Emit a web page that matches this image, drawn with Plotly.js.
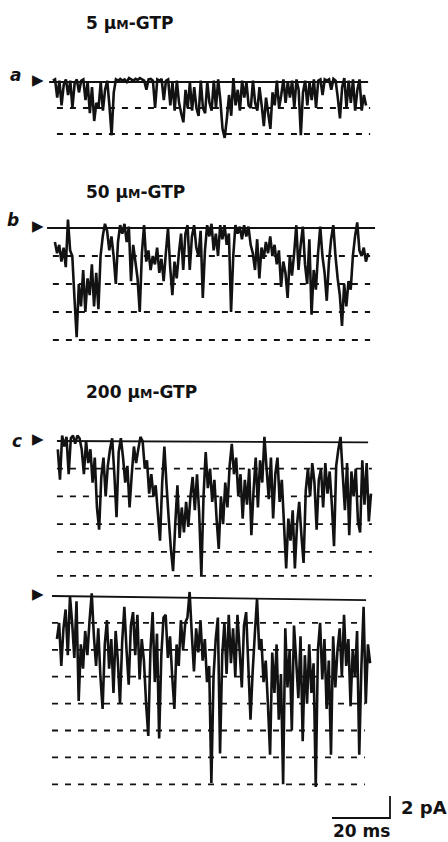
<!DOCTYPE html>
<html><head><meta charset="utf-8">
<script src="https://cdn.plot.ly/plotly-3.0.1.min.js"></script>
<style>html,body{margin:0;padding:0;background:#fff}#chart{width:448px;height:842px}</style>
</head><body><div id="chart"></div>
<script>
// ---------------- DATA ----------------
// GTP concentrations of the three recordings (µM)
const gtpConcentrations = ['5', '50', '200'];
const traceLabels = ['a', 'b', 'c', ''];

// sampling of the digitised current records (ms)
const sampleStepMs = 0.75;
const traceStartMs = [0.3, 1.0, 2.0, 1.7];

// current, in units of the unitary (dashed) level; 0 = closed (baseline), negative = inward
const currentA = [
  0.05, 0.1, -0.6, 0.05, -0.9, -0.1, 0.1, -0.5, 0.05, -1.0,
  -0.05, 0.1, -0.4, 0.05, 0.1, -0.7, 0.0, -1.2, -0.2, -1.5,
  -0.8, -1.0, 0.0, -1.1, -0.3, 0.05, -0.9, -2.05, -0.4, 0.1,
  0.05, 0.12, 0.05, 0.1, 0.0, 0.15, 0.1, 0.05, 0.12, 0.08,
  0.15, 0.1, 0.05, -0.3, 0.1, 0.12, 0.05, -1.0, 0.1, 0.05,
  0.12, -0.7, 0.05, 0.1, -0.9, 0.0, -1.1, 0.05, -0.8, -1.2,
  -1.55, -0.3, -1.0, 0.0, -1.1, -0.2, -1.0, -1.3, 0.05, -1.0,
  -1.2, 0.0, -0.8, -1.1, 0.05, -1.0, 0.1, -0.7, -1.8, -2.15,
  -1.4, -0.5, -1.3, 0.15, -0.9, -0.3, -1.1, 0.05, -0.6, 0.0,
  -0.9, -1.0, 0.05, -0.8, -1.1, -0.2, -0.9, -1.7, -0.6, -1.2,
  -1.8, -0.4, -0.9, 0.05, -1.0, -0.5, 0.1, -0.8, 0.0, -0.6,
  0.05, -1.0, 0.1, -0.3, -2.05, -0.4, 0.05, -0.9, 0.0, -0.7,
  0.1, -1.0, 0.05, 0.1, -0.5, 0.1, 0.05, 0.1, -0.3, 0.12,
  0.05, -0.6, -1.4, -0.2, 0.15, -1.0, 0.05, -0.8, 0.1, -1.1,
  -0.3, 0.1, -1.1, -0.5, -0.9
];
const currentB = [
  -0.5, -0.9, -0.6, -1.2, -0.7, -1.4, 0.3, -0.8, -1.0, -2.5,
  -3.9, -2.0, -2.8, -1.5, -3.0, -1.8, -2.4, -1.3, -2.8, -1.6,
  -2.9, -1.0, -0.3, 0.15, -0.1, -0.8, -0.3, -1.0, -2.0, -0.5,
  0.1, -0.2, 0.15, -0.5, 0.05, -1.9, -0.6, -1.2, -1.8, -3.0,
  -0.9, 0.1, -1.2, -0.8, -1.5, -1.0, -1.3, -0.7, -1.6, -1.1,
  -1.9, -0.9, 0.0, -1.4, -2.4, -1.2, -1.8, -0.9, -0.2, -1.5,
  -0.2, 0.1, -1.5, -0.3, 0.1, -0.7, -1.0, -0.1, -2.5, -0.8,
  0.1, -0.3, 0.15, -0.8, -0.2, -1.0, 0.1, -0.4, 0.1, -0.6,
  -0.2, -3.0, -1.0, 0.1, -0.2, 0.05, -0.4, 0.1, -0.3, 0.05,
  -0.6, -0.9, -1.5, -0.4, -1.8, -0.7, -1.1, -0.5, -0.9, -0.3,
  -1.0, -0.6, -1.3, -0.8, -2.1, -1.2, -1.6, -2.5, -1.0, -1.7,
  -0.9, 0.1, -1.5, -0.6, 0.05, -1.3, -2.0, -0.4, -3.1, -1.5,
  -2.2, -0.9, 0.05, -1.0, -1.6, -2.6, -1.2, -0.4, 0.1, -1.0,
  -1.8, -2.4, -3.5, -2.0, -2.8, -1.9, -2.2, -1.0, -0.3, 0.2,
  -0.8, -1.0, -0.7, -1.2, -0.9
];
const currentC = [
  -0.3, -1.4, 0.2, -0.2, 0.15, -1.2, 0.1, 0.2, -0.1, 0.2,
  0.1, -0.3, -1.2, 0.0, -0.8, -0.3, -1.5, -0.6, -2.4, -3.2,
  -1.3, -0.6, -2.0, -0.9, -0.3, 0.1, -1.2, -2.75, -0.4, 0.1,
  -0.6, -1.5, -0.9, -2.4, -1.2, -0.2, -0.8, -0.3, 0.15, 0.0,
  -1.0, -0.7, -1.9, -1.2, -2.0, -1.6, -2.6, -3.6, -1.5, -0.2,
  -1.6, -2.8, -3.9, -4.7, -3.0, -1.6, -3.5, -2.4, -3.3, -2.2,
  -3.1, -2.0, -1.3, -2.5, -1.2, -2.6, -4.85, -2.0, -0.4, -1.7,
  -1.0, -2.2, -1.4, -2.8, -3.9, -2.0, -3.0, -1.5, -2.4, -0.9,
  -0.1, -1.2, -0.6, -2.0, -1.2, -2.8, -1.4, -2.3, -1.0, -3.4,
  -1.8, -0.6, -2.4, -0.7, -1.5, 0.15, -1.0, -2.1, -0.6, -2.8,
  -1.2, -0.6, -2.2, -1.4, -3.0, -4.6, -2.8, -3.6, -2.5, -4.6,
  -3.0, -2.2, -3.4, -4.4, -1.8, -1.0, -2.0, -0.8, -1.5, -3.2,
  -1.4, -1.0, -2.4, -0.8, -1.9, -1.1, -2.3, -3.8, -0.9, -0.3,
  0.15, -1.2, -2.5, -0.8, -3.4, -1.1, -2.0, -1.0, -2.9, -3.3,
  -0.7, -2.3, -0.8, -2.9, -1.9
];
const currentD = [
  -1.6, -1.0, -2.6, -1.2, -0.5, -2.2, 0.0, -1.0, -2.3, -0.2,
  -3.9, -1.8, -2.7, -1.3, -2.2, -0.9, 0.1, -1.5, -2.6, -1.2,
  -3.0, -4.2, -1.8, -0.9, -2.7, -1.6, -3.6, -1.3, -2.4, -4.0,
  -1.7, -0.4, -2.0, -3.3, -1.1, -0.6, -2.2, -0.7, -3.1, -1.6,
  -2.4, -4.0, -5.2, -2.0, -0.6, -3.2, -1.4, -5.3, -2.2, -0.8,
  -0.7, -2.3, -1.5, -3.0, -4.2, -1.8, -2.6, -0.9, -2.0, -1.0,
  -0.8, 0.15, -1.4, -2.8, -1.2, -2.1, -0.9, -2.4, -1.6, -3.2,
  -2.6, -6.95, -3.0, -1.6, -0.8, -5.85, -2.2, -1.0, -2.9, -0.7,
  -2.5, -1.2, -3.0, -0.7, -2.0, -3.4, -1.1, -0.6, -2.6, -4.6,
  -2.8, -1.4, -0.1, -2.0, -1.6, -3.2, -2.4, -4.0, -5.9, -2.1,
  -3.6, -1.8, -4.6, -2.9, -7.0, -1.2, -3.4, -2.0, -5.0, -1.1,
  -2.4, -3.8, -1.5, -5.4, -2.2, -4.0, -1.8, -3.6, -2.5, -7.1,
  -2.0, -1.0, -3.1, -1.6, -4.2, -2.4, -5.9, -1.5, -3.4, -2.0,
  -1.2, -3.0, -0.7, -2.6, -1.6, -4.1, -2.0, -3.0, -1.3, -5.9,
  -2.6, -0.4, -4.0, -1.8, -2.5
];
const currents = [currentA, currentB, currentC, currentD];

// closed-level (solid) line: time extent (ms) and level at each end
const baselineMsA = [-1.0, 109.0], baselineMsB = [-1.7, 111.4], baselineMsC = [1.7, 109.0], baselineMsD = [0.0, 108.3];
const baselineLevelA = [0, 0], baselineLevelB = [0, 0], baselineLevelC = [0, -0.05], baselineLevelD = [0, -0.15];
// open-level (dashed) lines
const dashedMsA = [1.7, 109.7], dashedMsB = [0.3, 109.7], dashedMsC = [1.7, 110.3], dashedMsD = [0.0, 107.9];
const dashedLevelsA = [-1, -2];
const dashedLevelsB = [-1, -2, -3, -4];
const dashedLevelsC = [-1, -2, -3, -4, -4.87];
const dashedLevelsD = [-1, -2, -3, -4, -5, -6, -7];

// calibration
const scaleBarMs = 20;
const scaleBarPA = 2;
const pAPerLevel = 2.45;

// ---------------- LAYOUT HELPERS ----------------
const W = 448, H = 842;
const PX_PER_MS = 2.9, X_ORIGIN_PX = 52;
const basePx = [82, 228, 441, 596];
const pxPerLevel = [26, 28, 27.7, 26.9];
const yRange = k => [(basePx[k] - H) / pxPerLevel[k], basePx[k] / pxPerLevel[k]];
const px2paperX = p => p / W;
const px2paperY = p => 1 - p / H;
const yName = k => (k === 0 ? 'y' : 'y' + (k + 1));

const baselinesMs = [baselineMsA, baselineMsB, baselineMsC, baselineMsD];
const baselinesLv = [baselineLevelA, baselineLevelB, baselineLevelC, baselineLevelD];
const dashedMs = [dashedMsA, dashedMsB, dashedMsC, dashedMsD];
const dashedLv = [dashedLevelsA, dashedLevelsB, dashedLevelsC, dashedLevelsD];

const INK = '#121212';
const FONT = 'DejaVu Sans';
const data = [];
const annotations = [];

for (let k = 0; k < 4; k++) {
  dashedLv[k].forEach(lv => data.push({
    type: 'scatter', mode: 'lines', x: dashedMs[k], y: [lv, lv], xaxis: 'x', yaxis: yName(k),
    line: { color: INK, width: 1.8, dash: '6px,7px' }, hoverinfo: 'skip'
  }));
  data.push({
    type: 'scatter', mode: 'lines', x: baselinesMs[k], y: baselinesLv[k], xaxis: 'x', yaxis: yName(k),
    line: { color: INK, width: 1.8 }, hoverinfo: 'skip'
  });
  data.push({
    type: 'scatter', mode: 'lines', x0: traceStartMs[k], dx: sampleStepMs, y: currents[k],
    xaxis: 'x', yaxis: yName(k), line: { color: INK, width: 2.6, simplify: false }, hoverinfo: 'skip'
  });
  // arrow marking the closed level
  annotations.push({
    xref: 'x', yref: yName(k), x: (38 - X_ORIGIN_PX) / PX_PER_MS, y: 0.08,
    text: '\u25B6', showarrow: false, xanchor: 'center', yanchor: 'middle',
    font: { family: FONT, size: 15, color: INK }
  });
}

// record labels
const labelPos = [[8, 75], [5, 220], [10, 441]];
traceLabels.forEach((t, k) => {
  if (!t) return;
  annotations.push({
    xref: 'paper', yref: 'paper', x: px2paperX(labelPos[k][0]), y: px2paperY(labelPos[k][1]),
    text: '<b><i>' + t + '</i></b>', showarrow: false, xanchor: 'left', yanchor: 'middle',
    font: { family: FONT, size: 17, color: INK }
  });
});

// condition titles
const titleY = [23, 192, 392];
gtpConcentrations.forEach((c, k) => {
  annotations.push({
    xref: 'paper', yref: 'paper', x: px2paperX(84), y: px2paperY(titleY[k]),
    text: '<b>' + c + ' \u03BC<span style="font-size:12.5px">M</span>-GTP</b>',
    showarrow: false, xanchor: 'left', yanchor: 'middle',
    font: { family: FONT, size: 17, color: INK }
  });
});

// scale bar (drawn on the last record's axes)
const barEndMs = (390 - X_ORIGIN_PX) / PX_PER_MS;
const barBottomLv = -(818 - basePx[3]) / pxPerLevel[3];
const barHeightLv = scaleBarPA / pAPerLevel;
data.push({
  type: 'scatter', mode: 'lines', xaxis: 'x', yaxis: 'y4',
  x: [barEndMs - scaleBarMs, barEndMs, barEndMs],
  y: [barBottomLv, barBottomLv, barBottomLv + barHeightLv],
  line: { color: INK, width: 1.8 }, hoverinfo: 'skip'
});
annotations.push({
  xref: 'x', yref: 'y4', x: barEndMs + 3.0, y: barBottomLv + barHeightLv / 2,
  text: '<b>' + scaleBarPA + ' pA</b>', showarrow: false, xanchor: 'left', yanchor: 'middle',
  font: { family: FONT, size: 18, color: INK }
});
annotations.push({
  xref: 'x', yref: 'y4', x: barEndMs - scaleBarMs - 0.3, y: barBottomLv - 0.5,
  text: '<b>' + scaleBarMs + ' ms</b>', showarrow: false, xanchor: 'left', yanchor: 'middle',
  font: { family: FONT, size: 17, color: INK }
});

const layout = {
  width: W, height: H, margin: { l: 0, r: 0, t: 0, b: 0, pad: 0 },
  paper_bgcolor: '#ffffff', plot_bgcolor: '#ffffff', showlegend: false,
  font: { family: FONT, color: INK },
  xaxis: { range: [-X_ORIGIN_PX / PX_PER_MS, (W - X_ORIGIN_PX) / PX_PER_MS], visible: false, fixedrange: true },
  annotations: annotations
};
for (let k = 0; k < 4; k++) {
  const ax = { domain: [0, 1], range: yRange(k), visible: false, fixedrange: true };
  if (k > 0) { ax.overlaying = 'y'; ax.anchor = 'x'; }
  layout[k === 0 ? 'yaxis' : 'yaxis' + (k + 1)] = ax;
}

Plotly.newPlot('chart', data, layout, { staticPlot: true, displayModeBar: false });
</script>
</body></html>
